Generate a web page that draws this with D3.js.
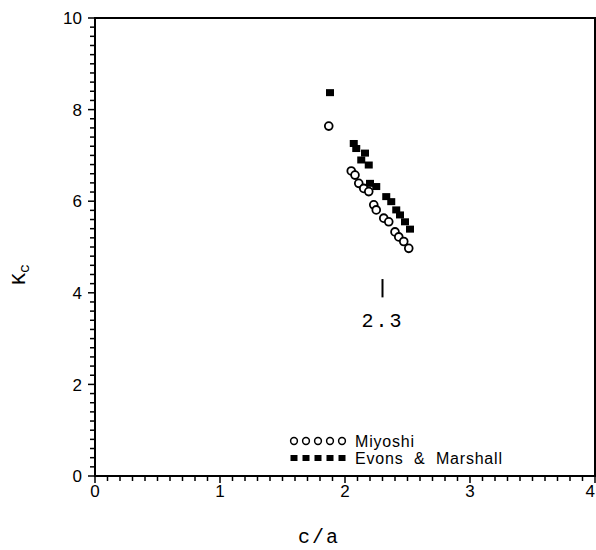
<!DOCTYPE html>
<html lang="en">
<head>
<meta charset="UTF-8">
<title>Kc vs c/a</title>
<script src="https://d3js.org/d3.v7.min.js"></script>
<style>
  body { margin: 0; background: #fff; }
  svg { display: block; }
  .tick-label { font-family: "Liberation Sans", Arial, sans-serif; font-size: 17px; fill: #000; }
  .mono { font-family: "Liberation Mono", "DejaVu Sans Mono", monospace; fill: #000; }
  .legend text { font-family: "Liberation Sans", Arial, sans-serif; font-size: 16px; letter-spacing: 0.8px; fill: #000; }
</style>
</head>
<body>
<div id="chart"></div>
<script>
// Miyoshi (open circles)
const miyoshiX = [1.87, 2.05, 2.08, 2.11, 2.15, 2.19, 2.23, 2.25, 2.31, 2.35, 2.40, 2.43, 2.47, 2.51];
const miyoshiY = [7.64, 6.66, 6.57, 6.39, 6.28, 6.21, 5.92, 5.81, 5.63, 5.55, 5.33, 5.22, 5.12, 4.97];
// Evans & Marshall (filled squares)
const evansX = [1.88, 2.07, 2.09, 2.16, 2.13, 2.19, 2.20, 2.25, 2.33, 2.37, 2.41, 2.44, 2.48, 2.52];
const evansY = [8.37, 7.26, 7.15, 7.05, 6.90, 6.79, 6.39, 6.32, 6.10, 5.99, 5.81, 5.70, 5.55, 5.39];

const xTickLabels = ["0", "1", "2", "3", "4"];
const yTickLabels = ["0", "2", "4", "6", "8", "10"];
const legendNames = ["Miyoshi", "Evons  &  Marshall"];
const markerX = 2.3;          // vertical marker on the curve
const markerY = [3.9, 4.3];

const width = 596, height = 550;
const x = d3.scaleLinear().domain([0, 4]).range([95, 595]);
const y = d3.scaleLinear().domain([0, 10]).range([476, 18]);

const svg = d3.select("#chart").append("svg")
    .attr("width", width)
    .attr("height", height);

// frame
svg.append("rect")
    .attr("x", x(0)).attr("y", y(10))
    .attr("width", x(4) - x(0)).attr("height", y(0) - y(10))
    .attr("fill", "none").attr("stroke", "#000").attr("stroke-width", 2);

// x ticks (every 0.1, pointing down)
svg.append("g").selectAll("line")
    .data(d3.range(0, 41).map(i => i / 10))
    .join("line")
    .attr("x1", d => x(d)).attr("x2", d => x(d))
    .attr("y1", y(0)).attr("y2", (d, i) => y(0) + (i % 10 === 0 ? 7 : 5))
    .attr("stroke", "#000").attr("stroke-width", 1.5);

// last label sits at the page edge, so it is right-aligned to stay whole
svg.append("g").selectAll("text")
    .data(xTickLabels)
    .join("text")
    .attr("class", "tick-label")
    .attr("x", d => x(+d))
    .attr("y", y(0) + 21)
    .attr("text-anchor", (d, i) => i === xTickLabels.length - 1 ? "end" : "middle")
    .text(d => d);

// y ticks (every 0.2, pointing left)
svg.append("g").selectAll("line")
    .data(d3.range(0, 51).map(i => i / 5))
    .join("line")
    .attr("x1", x(0)).attr("x2", (d, i) => x(0) - (i % 10 === 0 ? 7 : 5))
    .attr("y1", d => y(d)).attr("y2", d => y(d))
    .attr("stroke", "#000").attr("stroke-width", 1.5);

svg.append("g").selectAll("text")
    .data(yTickLabels)
    .join("text")
    .attr("class", "tick-label")
    .attr("x", x(0) - 13)
    .attr("y", d => y(+d))
    .attr("dy", "0.36em")
    .attr("text-anchor", "end")
    .text(d => d);

// axis titles
svg.append("text")
    .attr("class", "mono")
    .attr("x", 319).attr("y", 543)
    .attr("text-anchor", "middle")
    .attr("font-size", 20)
    .attr("letter-spacing", 2)
    .text("c/a");

const ylab = svg.append("text")
    .attr("class", "mono")
    .attr("transform", "translate(25,285) rotate(-90)")
    .attr("font-size", 20);
ylab.append("tspan").text("K");
ylab.append("tspan").attr("dy", 4).attr("font-size", 15).text("c");

// 2.3 marker
svg.append("line")
    .attr("x1", x(markerX)).attr("x2", x(markerX))
    .attr("y1", y(markerY[0])).attr("y2", y(markerY[1]))
    .attr("stroke", "#000").attr("stroke-width", 2);
svg.append("text")
    .attr("class", "mono")
    .attr("x", x(markerX)).attr("y", y(markerY[0]) + 30)
    .attr("text-anchor", "middle")
    .attr("font-size", 20)
    .attr("letter-spacing", 2)
    .text(String(markerX));

// data
svg.append("g").selectAll("rect")
    .data(d3.zip(evansX, evansY))
    .join("rect")
    .attr("x", d => x(d[0]) - 4).attr("y", d => y(d[1]) - 3.5)
    .attr("width", 8).attr("height", 7)
    .attr("fill", "#000");

svg.append("g").selectAll("circle")
    .data(d3.zip(miyoshiX, miyoshiY))
    .join("circle")
    .attr("cx", d => x(d[0])).attr("cy", d => y(d[1]))
    .attr("r", 3.9)
    .attr("fill", "#fff").attr("stroke", "#000").attr("stroke-width", 1.8);

// legend
const legend = svg.append("g").attr("class", "legend");
const slots = d3.range(5);
legend.selectAll("circle")
    .data(slots)
    .join("circle")
    .attr("cx", d => 294 + d * 12).attr("cy", 441)
    .attr("r", 3.4)
    .attr("fill", "none").attr("stroke", "#000").attr("stroke-width", 1.5);
legend.selectAll("rect")
    .data(slots)
    .join("rect")
    .attr("x", d => 290.5 + d * 12).attr("y", 455)
    .attr("width", 7).attr("height", 6)
    .attr("fill", "#000");
legend.selectAll("text")
    .data(legendNames)
    .join("text")
    .attr("x", 355)
    .attr("y", (d, i) => 447 + i * 17)
    .attr("xml:space", "preserve")
    .style("white-space", "pre")
    .text(d => d);
</script>
</body>
</html>
